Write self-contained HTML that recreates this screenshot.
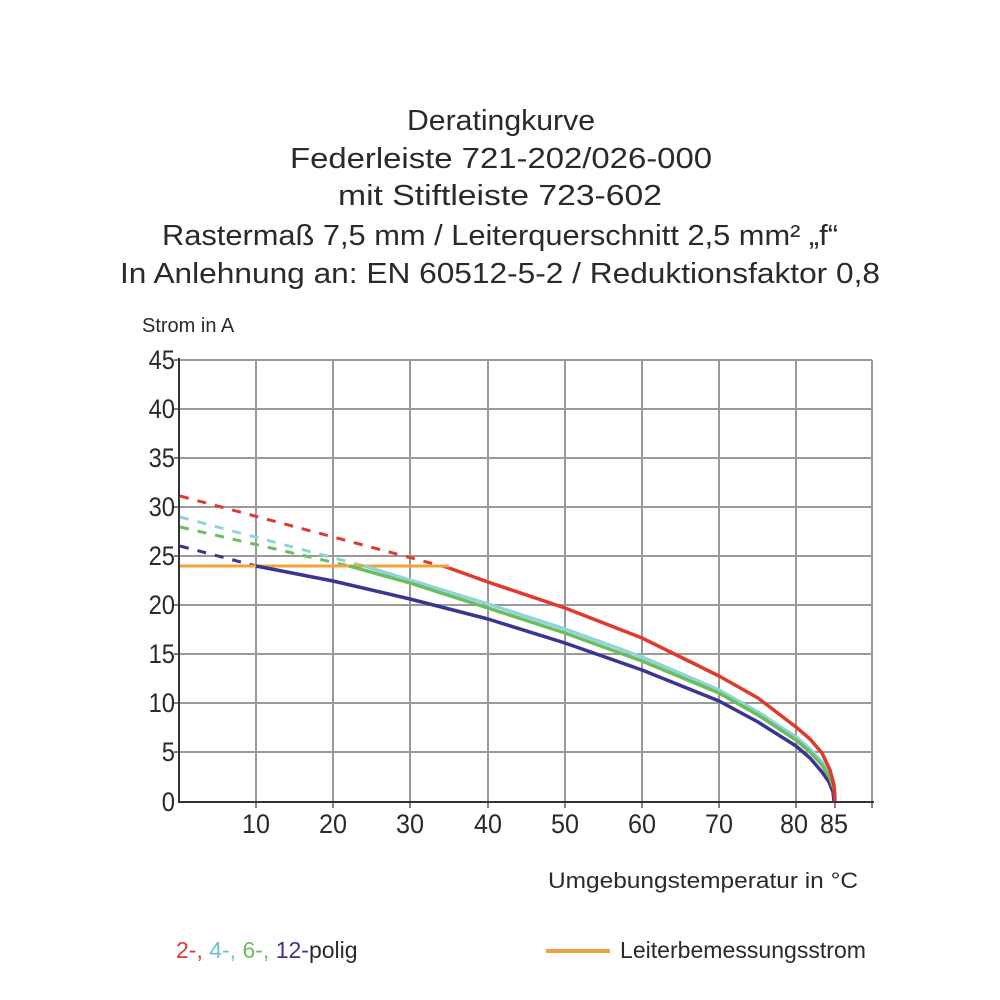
<!DOCTYPE html>
<html><head><meta charset="utf-8"><style>
body{margin:0;background:#fff;}
svg{display:block;}
.t{font-family:"Liberation Sans",sans-serif;fill:#2a2a2a;}
</style></head><body>
<svg width="1000" height="1000" viewBox="0 0 1000 1000">
<g class="t" font-size="29" text-anchor="middle" lengthAdjust="spacingAndGlyphs">
<text x="501" y="130" textLength="188" lengthAdjust="spacingAndGlyphs">Deratingkurve</text>
<text x="501" y="168" textLength="422" lengthAdjust="spacingAndGlyphs">Federleiste 721-202/026-000</text>
<text x="500" y="205" textLength="324" lengthAdjust="spacingAndGlyphs">mit Stiftleiste 723-602</text>
<text x="500" y="245" textLength="676" lengthAdjust="spacingAndGlyphs">Rastermaß 7,5 mm / Leiterquerschnitt 2,5 mm² „f“</text>
<text x="500" y="283" textLength="760" lengthAdjust="spacingAndGlyphs">In Anlehnung an: EN 60512-5-2 / Reduktionsfaktor 0,8</text>
</g>
<text class="t" x="142" y="332" font-size="20">Strom in A</text>
<g stroke="#9a9a9a" stroke-width="2" fill="none">
<path d="M179 360H872M179 409H872M179 458H872M179 507H872M179 556H872M179 605H872M179 654H872M179 703H872M179 752H872"/>
<path d="M256 360V801M333 360V801M410 360V801M488 360V801M565 360V801M642 360V801M719 360V801M796 360V801M872 360V801"/>
</g>
<g stroke="#333" stroke-width="2" fill="none">
<path d="M179 358V802H874"/>
</g>
<g stroke="#333" stroke-width="1.2">
<path d="M174 360H179M174 409H179M174 458H179M174 507H179M174 556H179M174 605H179M174 654H179M174 703H179M174 752H179"/>
<path d="M256 802V808M333 802V808M410 802V808M488 802V808M565 802V808M642 802V808M719 802V808M796 802V808M835 802V808M872 802V808"/>
</g>
<g class="t" font-size="27" text-anchor="end">
<text x="175" y="369" transform="translate(175 0) scale(0.88 1) translate(-175 0)">45</text>
<text x="175" y="418" transform="translate(175 0) scale(0.88 1) translate(-175 0)">40</text>
<text x="175" y="467" transform="translate(175 0) scale(0.88 1) translate(-175 0)">35</text>
<text x="175" y="516" transform="translate(175 0) scale(0.88 1) translate(-175 0)">30</text>
<text x="175" y="565" transform="translate(175 0) scale(0.88 1) translate(-175 0)">25</text>
<text x="175" y="614" transform="translate(175 0) scale(0.88 1) translate(-175 0)">20</text>
<text x="175" y="663" transform="translate(175 0) scale(0.88 1) translate(-175 0)">15</text>
<text x="175" y="712" transform="translate(175 0) scale(0.88 1) translate(-175 0)">10</text>
<text x="175" y="761" transform="translate(175 0) scale(0.88 1) translate(-175 0)">5</text>
<text x="175" y="811" transform="translate(175 0) scale(0.88 1) translate(-175 0)">0</text>
</g>
<g class="t" font-size="27" text-anchor="middle">
<text x="256" y="833" textLength="28" lengthAdjust="spacingAndGlyphs">10</text>
<text x="333" y="833" textLength="28" lengthAdjust="spacingAndGlyphs">20</text>
<text x="410" y="833" textLength="28" lengthAdjust="spacingAndGlyphs">30</text>
<text x="488" y="833" textLength="28" lengthAdjust="spacingAndGlyphs">40</text>
<text x="565" y="833" textLength="28" lengthAdjust="spacingAndGlyphs">50</text>
<text x="642" y="833" textLength="28" lengthAdjust="spacingAndGlyphs">60</text>
<text x="719" y="833" textLength="28" lengthAdjust="spacingAndGlyphs">70</text>
<text x="794" y="833" textLength="28" lengthAdjust="spacingAndGlyphs">80</text>
<text x="834" y="833" textLength="28" lengthAdjust="spacingAndGlyphs">85</text>
</g>
<text class="t" x="858" y="888" font-size="22" text-anchor="end" textLength="310" lengthAdjust="spacingAndGlyphs">Umgebungstemperatur in °C</text>
<g fill="none" stroke-width="3" stroke-dasharray="9,9">
<path stroke="#e03a2e" d="M180 496L449 568"/>
<path stroke="#8fd3dc" d="M180 517L364 566"/>
<path stroke="#6cbd5e" d="M180 527L349 566"/>
<path stroke="#3a3590" d="M180 546L256 566"/>
</g>
<path d="M180 566H449" stroke="#f2a23a" stroke-width="3"/>
<g fill="none" stroke-width="3.5" stroke-linejoin="round">
<polyline stroke="#3a3590" points="256,566 333,581 410,599 488,619 565,643 642,670 719,701 758,722 796,746 810,758 822,772 829,782 833,792 834,801"/>
<polyline stroke="#8fd3dc" points="364,566 410,580 488,604 565,629 642,657 719,690 758,712 796,737 810,749 822,762 830,775 834,786 835,795"/>
<polyline stroke="#6cbd5e" points="349,566 410,583 488,608 565,633 642,661 719,693 758,715 796,740 810,752 822,765 830,778 834,789 835,797"/>
<polyline stroke="#e03a2e" points="449,568 488,582 565,608 642,638 719,676 758,698 796,727 810,739 822,753 830,770 834,785 835,801"/>
</g>
<g font-family="Liberation Sans,sans-serif" font-size="23">
<text x="176" y="958"><tspan fill="#e03a2e">2-, </tspan><tspan fill="#6cc3cf">4-, </tspan><tspan fill="#6cbd5e">6-, </tspan><tspan fill="#3a3590">12-</tspan><tspan fill="#2a2a2a">polig</tspan></text>
<text x="620" y="958" fill="#2a2a2a" textLength="246" lengthAdjust="spacingAndGlyphs">Leiterbemessungsstrom</text>
</g>
<path d="M546 951H610" stroke="#f2a23a" stroke-width="4"/>
</svg>
</body></html>
